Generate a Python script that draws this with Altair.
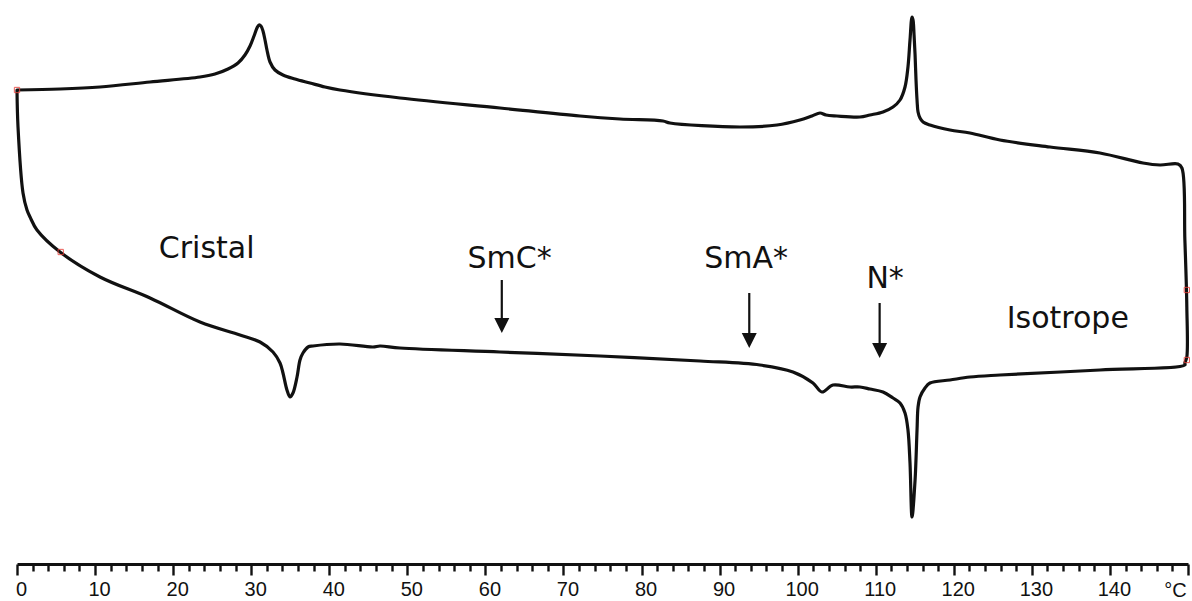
import altair as alt
import pandas as pd

# DSC thermogram: heating run (upper trace) then cooling run (lower trace),
# joined by the isothermal segments at both ends so the loop is closed.
heat_T = [0.0, 5.51, 10.63, 17.04, 23.44, 25.36, 27.03, 28.31, 29.20, 29.85,
          30.36, 30.74, 31.00, 31.25, 31.51, 31.77, 32.02, 32.41, 33.05, 34.07,
          35.61, 37.53, 39.45, 41.37, 49.06, 61.87, 72.12, 77.24, 82.75, 83.64,
          92.61, 97.35, 100.29, 101.83, 102.86, 103.63, 105.03, 107.98, 109.26, 110.93,
          112.21, 113.11, 113.75, 114.13, 114.39, 114.65, 114.78, 114.91, 115.04, 115.16,
          115.29, 115.42, 115.67, 116.06, 116.95, 119.51, 122.07, 125.91, 132.32, 138.72,
          144.23, 146.41, 148.71, 149.22, 149.60, 149.85, 149.85, 149.60]
heat_flux = [474, 475, 477, 482, 487, 490, 495, 501, 509, 518,
             528, 536, 539, 538, 533, 524, 514, 502, 494, 489,
             485, 481, 477, 474, 466, 456, 448, 445, 443, 441,
             437, 439, 444, 448, 451, 449, 448, 447, 449, 452,
             457, 464, 477, 497, 524, 547, 544, 529, 509, 484,
             464, 452, 446, 442, 439, 434, 431, 424, 417, 411,
             401, 399, 400, 396, 324, 257, 207, 201]

cool_T = [149.60, 138.72, 125.91, 122.07, 119.51, 116.95, 116.31, 115.67, 115.42, 115.29,
          115.04, 114.65, 114.39, 114.13, 113.75, 113.11, 112.21, 110.93, 109.26, 107.98,
          106.70, 104.52, 103.11, 101.96, 99.40, 95.17, 87.49, 74.68, 61.87, 49.06,
          46.50, 45.60, 41.37, 37.92, 37.28, 36.63, 36.25, 35.87, 35.35, 34.97,
          34.58, 34.07, 33.69, 32.79, 31.13, 28.56, 23.44, 17.04, 10.63, 5.51,
          2.56, 1.67, 1.28, 0.77, 0.13, 0.0]
cool_flux = [199, 194, 189, 187, 184, 181, 176, 167, 157, 134,
             84, 47, 101, 134, 151, 161, 166, 172, 175, 177,
             177, 179, 172, 181, 192, 199, 203, 208, 212, 216,
             218, 217, 220, 218, 217, 211, 204, 187, 171, 167,
             174, 191, 201, 212, 222, 229, 242, 266, 287, 312,
             334, 347, 354, 371, 437, 474]

# Integration limit markers left on the trace by the analysis software
limit_T = [0.0, 5.6, 149.85, 149.85]
limit_flux = [474, 312, 274, 204]

# Phase labels and the arrows pointing at the cooling trace
phase_names = ["Cristal", "SmC*", "SmA*", "N*", "Isotrope"]
phase_T = [24.3, 63.1, 93.4, 111.2, 134.6]
phase_flux = [306, 296, 296, 276, 236]

arrow_T = [62.1, 93.8, 110.5]
arrow_top = [284, 271, 261]
arrow_tip = [231, 216, 206]

trace = pd.DataFrame({"T": heat_T + cool_T, "flux": heat_flux + cool_flux})
trace["step"] = range(len(trace))
limits = pd.DataFrame({"T": limit_T, "flux": limit_flux})
phases = pd.DataFrame({"T": phase_T, "flux": phase_flux, "name": phase_names})
arrows = pd.DataFrame({"T": arrow_T, "top": arrow_top,
                       "head": [t + 7.5 for t in arrow_tip]})

x_scale = alt.Scale(domain=[0, 150], nice=False, zero=False)
y_scale = alt.Scale(domain=[0, 564], nice=False, zero=False)

x_axis = alt.Axis(
    values=list(range(0, 151, 2)),
    tickCount=500,
    format="d",
    labelOverlap=False,
    labelFlush=False,
    labelBound=False,
    labelExpr="datum.value % 10 === 0 && datum.value < 150 ? datum.label : ''",
    tickSize={"condition": {"test": "datum.value % 10 === 0", "value": 11}, "value": 7},
    tickWidth=2.4,
    tickColor="#111111",
    domainColor="#111111",
    domainWidth=3,
    labelFont="Liberation Sans",
    labelFontSize=20,
    labelColor="#111111",
    labelPadding=4,
    labelOffset=4,
    labelBaseline="top",
    grid=False,
    title="°C",
    titleFont="Liberation Sans",
    titleFontSize=20,
    titleFontWeight="normal",
    titleColor="#111111",
    titleX=1158,
    titleY=32,
    titleAlign="center",
    titleBaseline="alphabetic",
    titleAngle=0,
)

x_enc = alt.X("T:Q", scale=x_scale, axis=x_axis)
y_enc = alt.Y("flux:Q", scale=y_scale, axis=None)

curve = alt.Chart(trace).mark_line(
    color="#111111", strokeWidth=3.2, strokeJoin="round", strokeCap="round",
    interpolate="catmull-rom"
).encode(x=x_enc, y=y_enc, order="step:Q")

markers = alt.Chart(limits).mark_point(
    shape="square", size=28, filled=False, color="#e8403a", strokeWidth=1, opacity=0.85
).encode(x="T:Q", y="flux:Q")

labels = alt.Chart(phases).mark_text(
    font="DejaVu Sans", fontSize=30, color="#111111", align="center", baseline="alphabetic"
).encode(x="T:Q", y="flux:Q", text="name:N")

shafts = alt.Chart(arrows).mark_rule(color="#111111", strokeWidth=2.2).encode(
    x="T:Q", y="top:Q", y2="head:Q"
)

heads = alt.Chart(arrows).mark_point(
    shape="M -1 -1 L 1 -1 L 0 1 Z", size=225, filled=True, color="#111111", opacity=1
).encode(x="T:Q", y="head:Q")

chart = alt.layer(curve, markers, labels, shafts, heads).properties(
    width=1171,
    height=564,
    background="white",
    padding={"left": 17, "top": 0, "right": 4, "bottom": 37},
    autosize=alt.AutoSizeParams(type="none"),
).configure_view(stroke=None)

chart.save("out.html", embed_options={"renderer": "svg", "actions": False})
